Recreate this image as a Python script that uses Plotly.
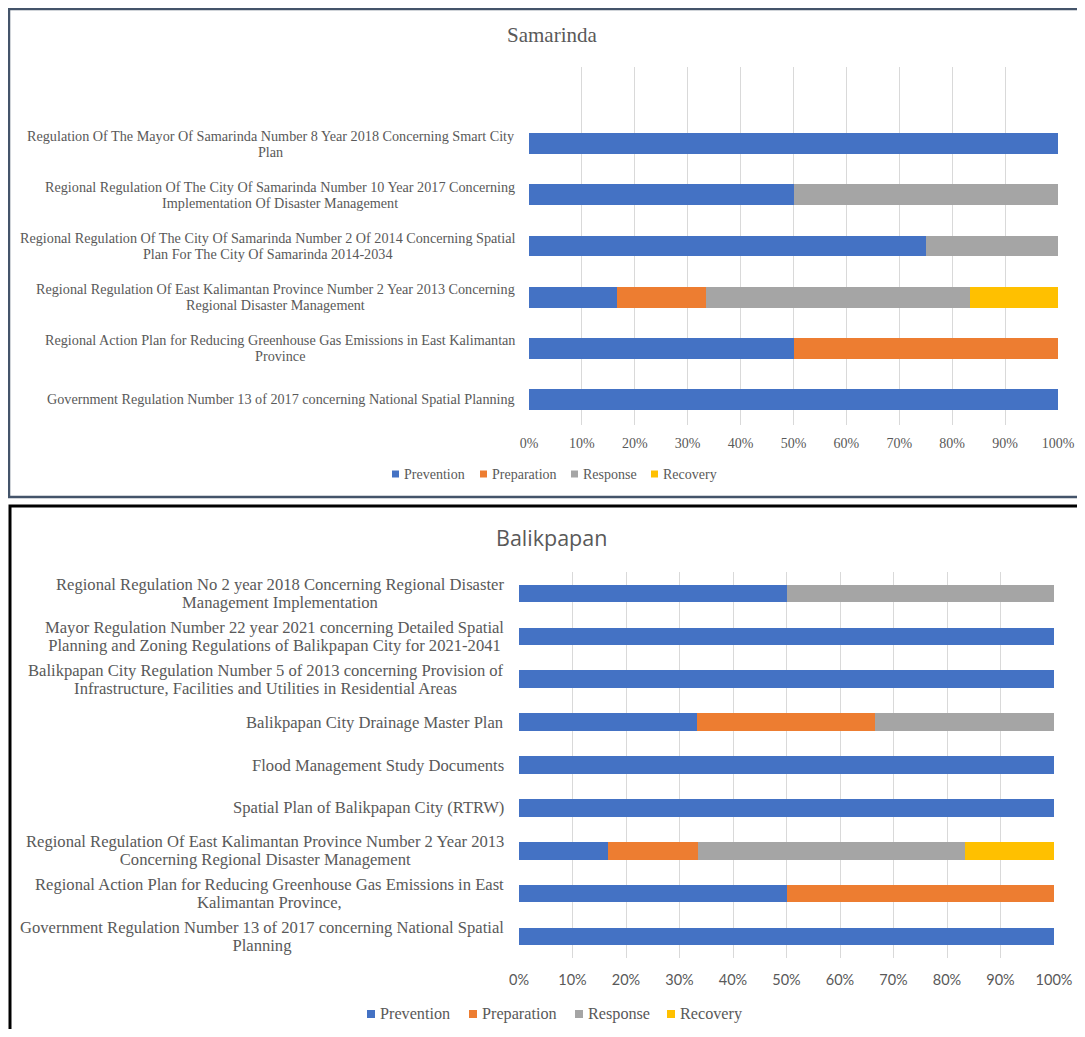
import plotly.graph_objects as go

# Datos: fases de gestión de desastres por documento (porcentaje)
phases = ["Prevention", "Preparation", "Response", "Recovery"]
phase_colors = ["#4472C4", "#ED7D31", "#A5A5A5", "#FFC000"]

# Samarinda (de arriba hacia abajo)
sam_docs = [
    "Regulation Of The Mayor Of Samarinda Number 8 Year 2018 Concerning Smart City<br>Plan",
    "Regional Regulation Of The City Of Samarinda Number 10 Year 2017 Concerning<br>Implementation Of Disaster Management",
    "Regional Regulation Of The City Of Samarinda Number 2 Of 2014 Concerning Spatial<br>Plan For The City Of Samarinda 2014-2034",
    "Regional Regulation Of East Kalimantan Province Number 2 Year 2013 Concerning<br>Regional Disaster Management",
    "Regional Action Plan for Reducing Greenhouse Gas Emissions in East Kalimantan<br>Province",
    "Government Regulation Number 13 of 2017 concerning National Spatial Planning",
]
sam_prevention = [100, 50, 75, 16.7, 50, 100]
sam_preparation = [0, 0, 0, 16.7, 50, 0]
sam_response = [0, 50, 25, 50, 0, 0]
sam_recovery = [0, 0, 0, 16.7, 0, 0]

# Balikpapan (de arriba hacia abajo)
bal_docs = [
    "Regional Regulation No 2 year 2018 Concerning Regional Disaster<br>Management Implementation",
    "Mayor Regulation Number 22 year 2021 concerning Detailed Spatial<br>Planning and Zoning Regulations of Balikpapan City for 2021-2041",
    "Balikpapan City Regulation Number 5 of 2013 concerning Provision of<br>Infrastructure, Facilities and Utilities in Residential Areas",
    "Balikpapan City Drainage Master Plan",
    "Flood Management Study Documents",
    "Spatial Plan of Balikpapan City (RTRW)",
    "Regional Regulation Of East Kalimantan Province Number 2 Year 2013<br>Concerning Regional Disaster Management",
    "Regional Action Plan for Reducing Greenhouse Gas Emissions in East<br>Kalimantan Province,",
    "Government Regulation Number 13 of 2017 concerning National Spatial<br>Planning",
]
bal_prevention = [50, 100, 100, 33.3, 100, 100, 16.7, 50, 100]
bal_preparation = [0, 0, 0, 33.3, 0, 0, 16.7, 50, 0]
bal_response = [50, 0, 0, 33.4, 0, 0, 50, 0, 0]
bal_recovery = [0, 0, 0, 0, 0, 0, 16.6, 0, 0]

x_ticks = [0, 10, 20, 30, 40, 50, 60, 70, 80, 90, 100]
x_tick_labels = [f"{v}%" for v in x_ticks]

# La página tiene un margen de 8px alrededor de la figura
OFF = 8
W, H = 1085 - 2 * OFF, 1037 - 2 * OFF


def px(x):
    return (x - OFF) / W


def py(y):
    return 1 - (y - OFF) / H


def tight_lines(text, size):
    # cada línea en su propio span para que el interlineado salga del tamaño base
    return "<br>".join(
        f"<span style='font-size:{size}px'>{line}</span>" for line in text.split("<br>")
    )


SERIF = "Liberation Serif, Times New Roman, serif"
SANS = "Lato, Calibri, sans-serif"
GRAY = "#595959"

fig = go.Figure()

sam_series = [sam_prevention, sam_preparation, sam_response, sam_recovery]
bal_series = [bal_prevention, bal_preparation, bal_response, bal_recovery]

for name, color, vals in zip(phases, phase_colors, sam_series):
    fig.add_trace(go.Bar(
        y=sam_docs, x=vals, name=name, orientation="h",
        marker_color=color, marker_line_width=0,
        xaxis="x", yaxis="y", showlegend=False,
    ))

for name, color, vals in zip(phases, phase_colors, bal_series):
    fig.add_trace(go.Bar(
        y=bal_docs, x=vals, name=name, orientation="h",
        marker_color=color, marker_line_width=0,
        xaxis="x2", yaxis="y2", showlegend=False,
    ))

sam_order = sam_docs[::-1]
bal_order = bal_docs[::-1]

# Etiquetas de categorías centradas (como en Excel)
annotations = []
for i, doc in enumerate(sam_order):
    annotations.append(dict(
        text=tight_lines(doc, 14.2), xref="x", yref="y", x=0, y=i, xshift=-12,
        xanchor="right", yanchor="middle", align="center", showarrow=False,
        font=dict(family=SERIF, size=12.3, color=GRAY),
    ))
for i, doc in enumerate(bal_order):
    annotations.append(dict(
        text=tight_lines(doc, 16.6), xref="x2", yref="y2", x=0, y=i, xshift=-13,
        xanchor="right", yanchor="middle", align="center", showarrow=False,
        font=dict(family=SERIF, size=13.9, color=GRAY),
    ))

# Títulos
annotations.append(dict(
    text="Samarinda", xref="paper", yref="paper", x=px(552), y=py(35),
    xanchor="center", yanchor="middle", showarrow=False,
    font=dict(family=SERIF, size=21, color=GRAY),
))
annotations.append(dict(
    text="Balikpapan", xref="paper", yref="paper", x=px(551), y=py(537),
    xanchor="center", yanchor="middle", showarrow=False,
    font=dict(family="Open Sans, sans-serif", size=21.5, color=GRAY),
))

# Marcos de los paneles
shapes = [
    dict(type="rect", xref="paper", yref="paper",
         x0=px(9), x1=1.02, y0=py(497), y1=py(9),
         line=dict(color="#44546A", width=2.5)),
    dict(type="rect", xref="paper", yref="paper",
         x0=px(10), x1=1.02, y0=-0.05, y1=py(506),
         line=dict(color="#000000", width=3)),
]

# Leyendas estilo Excel (cuadro pequeño + texto)
legend_rows = [
    dict(y=474, xs=[392, 480, 571, 651], size=14, box=7, gap=10),
    dict(y=1014, xs=[367, 469, 575, 667], size=16.2, box=8, gap=11),
]
for row in legend_rows:
    for name, color, x0 in zip(phases, phase_colors, row["xs"]):
        half = row["box"] / 2
        shapes.append(dict(
            type="rect", xref="paper", yref="paper",
            x0=px(x0), x1=px(x0 + row["box"]),
            y0=py(row["y"] + half), y1=py(row["y"] - half),
            fillcolor=color, line=dict(width=0),
        ))
        annotations.append(dict(
            text=name, xref="paper", yref="paper",
            x=px(x0 + row["gap"]), y=py(row["y"]),
            xanchor="left", yanchor="middle", showarrow=False,
            font=dict(family=SERIF, size=row["size"], color=GRAY),
        ))

fig.update_layout(
    width=W, height=H,
    margin=dict(l=0, r=0, t=0, b=0, pad=0, autoexpand=False),
    paper_bgcolor="white", plot_bgcolor="white",
    barmode="stack", bargap=0.59,
    showlegend=False,
    xaxis=dict(
        domain=[px(529), px(1058)], anchor="y", range=[0, 100],
        tickmode="array", tickvals=x_ticks, ticktext=x_tick_labels,
        showgrid=True, gridcolor="#D9D9D9", gridwidth=1.2,
        zeroline=False, showline=False, ticks="", automargin=False,
        ticklabelstandoff=8,
        tickfont=dict(family=SERIF, size=14, color=GRAY),
        fixedrange=True,
    ),
    yaxis=dict(
        domain=[py(425), py(67)], anchor="x", type="category",
        categoryorder="array", categoryarray=sam_order,
        range=[-0.5, len(sam_order) + 0.5], showticklabels=False,
        showgrid=False, zeroline=False, ticks="", automargin=False,
    ),
    xaxis2=dict(
        domain=[px(519), px(1054)], anchor="y2", range=[0, 100],
        tickmode="array", tickvals=x_ticks, ticktext=x_tick_labels,
        showgrid=True, gridcolor="#D9D9D9", gridwidth=1.2,
        zeroline=False, showline=False, ticks="", automargin=False,
        ticklabelstandoff=11,
        tickfont=dict(family=SANS, size=14.5, color=GRAY),
        fixedrange=True,
    ),
    yaxis2=dict(
        domain=[py(958), py(572)], anchor="x2", type="category",
        categoryorder="array", categoryarray=bal_order,
        range=[-0.5, len(bal_order) - 0.5], showticklabels=False,
        showgrid=False, zeroline=False, ticks="", automargin=False,
    ),
    annotations=annotations,
    shapes=shapes,
)

fig.write_html("out.html")
